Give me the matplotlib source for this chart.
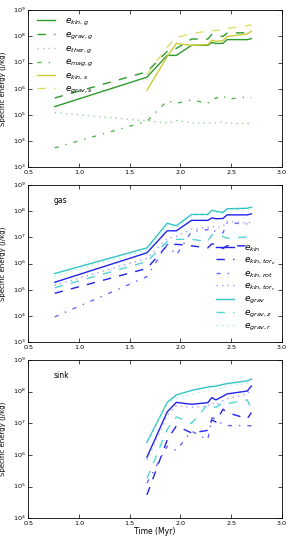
import matplotlib
matplotlib.use("Agg")
import matplotlib.pyplot as plt
from matplotlib.ticker import NullLocator

plt.style.use('classic')
plt.rcParams['font.family'] = ['DejaVu Sans']
plt.rcParams['mathtext.fontset'] = 'dejavusans'

# time grid (Myr)
t = [0.76, 1.67, 1.87, 1.96, 2.11, 2.27, 2.31, 2.35, 2.42, 2.46, 2.66, 2.70]
ts = t[1:]

# ---- panel 1 : gas & sink summary
ekin_g = [2.1e5, 2.8e6, 1.9e7, 1.9e7, 4.6e7, 4.6e7, 5.9e7, 5.4e7, 5.5e7, 7.6e7, 7.6e7, 8.3e7]
egrav_g = [4.5e5, 4.5e6, 2.7e7, 3.5e7, 8.0e7, 8.0e7, 1.2e8, 1.1e8, 1.0e8, 1.35e8, 1.4e8, 1.45e8]
ether_g = [1.25e5, 6.0e4, 5.0e4, 6.2e4, 5.0e4, 4.8e4, 5.2e4, 5.0e4, 5.6e4, 4.8e4, 4.8e4, 4.8e4]
emag_g = [5.6e3, 5.8e4, 3.5e5, 2.8e5, 3.8e5, 2.8e5, 4.2e5, 4.4e5, 5.6e5, 4.0e5, 5.0e5, 4.6e5]
ekin_s = [8.9e5, 1.7e7, 5.4e7, 4.6e7, 4.9e7, 7.2e7, 6.5e7, 7.0e7, 1.0e8, 1.25e8, 1.6e8]
egrav_s = [3.5e6, 4.0e7, 9.0e7, 1.3e8, 1.6e8, 1.65e8, 1.7e8, 1.8e8, 2.0e8, 2.6e8, 2.8e8]

# ---- panel 2 : gas
ekin_gas = [1.95e5, 2.6e6, 1.8e7, 1.8e7, 4.5e7, 4.5e7, 5.6e7, 5.2e7, 5.3e7, 7.3e7, 7.3e7, 8.0e7]
ekin_torz_gas = [7.4e4, 6.6e5, 5.0e6, 5.5e6, 4.8e6, 4.0e6, 5.7e6, 5.5e6, 3.8e6, 4.8e6, 4.8e6, 5.2e6]
ekin_rot_gas = [9.3e3, 3.2e5, 5.5e6, 2.1e6, 1.7e7, 2.0e7, 2.3e7, 1.6e7, 1.5e7, 3.6e7, 3.3e7, 3.6e7]
ekin_torr_gas = [1.5e5, 1.6e6, 9.0e6, 1.1e7, 2.1e7, 2.4e7, 2.7e7, 2.5e7, 2.6e7, 4.2e7, 3.6e7, 3.8e7]
egrav_gas = [4.2e5, 4.0e6, 3.5e7, 2.8e7, 7.6e7, 7.6e7, 1.1e8, 1.0e8, 9.0e7, 1.25e8, 1.3e8, 1.45e8]
egrav_z_gas = [1.2e5, 1.2e6, 7.0e6, 8.5e6, 8.5e6, 7.0e6, 1.25e7, 1.2e7, 1.1e7, 9.3e6, 1.05e7, 1.15e7]
egrav_r_gas = [3.3e5, 3.3e6, 3.0e7, 2.4e7, 6.8e7, 6.8e7, 9.8e7, 9.0e7, 8.0e7, 1.1e8, 1.15e8, 1.3e8]

# ---- panel 3 : sink
ekin_sink = [8.5e5, 2.3e7, 4.6e7, 4.0e7, 4.5e7, 6.5e7, 5.5e7, 7.2e7, 8.5e7, 1.05e8, 1.5e8]
ekin_torz_sink = [5.5e4, 3.0e6, 8.3e6, 5.0e6, 6.0e6, 1.3e7, 1.1e7, 2.8e7, 2.2e7, 1.4e7, 2.2e7]
ekin_rot_sink = [1.3e5, 1.9e6, 1.4e6, 5.7e6, 3.0e6, 1.5e7, 1.4e7, 9.0e6, 8.5e6, 8.5e6, 8.3e6]
ekin_torr_sink = [7.0e5, 1.8e7, 3.6e7, 3.2e7, 3.5e7, 4.5e7, 3.8e7, 5.2e7, 6.0e7, 8.5e7, 1.2e8]
egrav_sink = [2.5e6, 4.6e7, 7.9e7, 1.1e8, 1.4e8, 1.45e8, 1.5e8, 1.7e8, 1.8e8, 2.2e8, 2.5e8]
egrav_z_sink = [1.8e5, 6.5e6, 1.6e7, 1.0e7, 4.0e7, 3.5e7, 3.2e7, 4.5e7, 4.2e7, 5.5e7, 2.8e7]
egrav_r_sink = [2.3e6, 4.2e7, 6.5e7, 8.5e7, 1.05e8, 1.1e8, 1.15e8, 1.35e8, 1.5e8, 1.8e8, 2.1e8]

labels1 = [r'$e_{kin,g}$', r'$e_{grav,g}$', r'$e_{ther,g}$', r'$e_{mag,g}$',
           r'$e_{kin,s}$', r'$e_{grav,s}$']
labels2 = [r'$e_{kin}$', r'$e_{kin,tor_z}$', r'$e_{kin,rot}$', r'$e_{kin,tor_r}$',
           r'$e_{grav}$', r'$e_{grav,z}$', r'$e_{grav,r}$']

G1, G2, G3 = '#2e9a2e', '#55b455', '#99d199'
Y1, Y2 = '#cccc30', '#dede66'
B1, B2, B3 = '#2222ee', '#6666ff', '#a0a0ff'
C1, C2, C3 = '#33c4c4', '#55d4d4', '#a8ecec'

fig = plt.figure(figsize=(2.89, 5.42), dpi=100, facecolor='white')
ax1 = fig.add_axes([0.098, 0.691, 0.877, 0.290])
ax2 = fig.add_axes([0.098, 0.3685, 0.877, 0.290])
ax3 = fig.add_axes([0.098, 0.0437, 0.877, 0.292])

lw = 1.0
ax1.plot(t, ekin_g, '-', color=G1, lw=lw, label=labels1[0])
ax1.plot(t, egrav_g, '--', color=G1, lw=lw, label=labels1[1])
ax1.plot(t, ether_g, ':', color=G3, lw=lw, label=labels1[2])
ax1.plot(t, emag_g, '-.', color=G2, lw=lw, label=labels1[3])
ax1.plot(ts, ekin_s, '-', color=Y1, lw=lw, label=labels1[4])
ax1.plot(ts, egrav_s, '--', color=Y2, lw=lw, label=labels1[5])

def gas_like(ax, x, ek, ekz, ekr, ekt, eg, egz, egr, lab):
    ax.plot(x, ek, '-', color=B1, lw=lw, label=lab[0] if lab else None)
    ax.plot(x, ekz, '--', color=B1, lw=lw, label=lab[1] if lab else None)
    ax.plot(x, ekr, '-.', color=B2, lw=lw, label=lab[2] if lab else None)
    ax.plot(x, ekt, ':', color=B3, lw=lw, label=lab[3] if lab else None)
    ax.plot(x, eg, '-', color=C1, lw=lw, label=lab[4] if lab else None)
    ax.plot(x, egz, '--', color=C2, lw=lw, label=lab[5] if lab else None)
    ax.plot(x, egr, ':', color=C3, lw=lw, label=lab[6] if lab else None)

gas_like(ax2, t, ekin_gas, ekin_torz_gas, ekin_rot_gas, ekin_torr_gas,
         egrav_gas, egrav_z_gas, egrav_r_gas, labels2)
gas_like(ax3, ts, ekin_sink, ekin_torz_sink, ekin_rot_sink, ekin_torr_sink,
         egrav_sink, egrav_z_sink, egrav_r_sink, None)

for ax, ylo in ((ax1, 1e3), (ax2, 1e3), (ax3, 1e4)):
    ax.set_yscale('log')
    ax.set_xlim(0.5, 3.0)
    ax.set_ylim(ylo, 1e9)
    ax.set_xticks([0.5, 1.0, 1.5, 2.0, 2.5, 3.0])
    ax.yaxis.set_minor_locator(NullLocator())
    ax.tick_params(labelsize=4.6, length=3, width=0.5, pad=2)
    ax.set_ylabel('Specific energy (J/kg)', fontsize=5.0, labelpad=0)
    ax.yaxis.set_label_coords(-0.087, 0.5)
    for s in ax.spines.values():
        s.set_linewidth(0.6)

ax3.set_xlabel('Time (Myr)', fontsize=5.5, labelpad=1)
ax2.text(0.1, 0.9, 'gas', transform=ax2.transAxes, fontsize=5.5, va='center')
ax3.text(0.1, 0.9, 'sink', transform=ax3.transAxes, fontsize=5.5, va='center')

ax1.legend(loc='upper left', bbox_to_anchor=(0.0, 1.0), frameon=False, fontsize=6.5,
           handlelength=2.6, labelspacing=0.25, handletextpad=0.8, borderaxespad=0.3)
ax2.legend(loc='lower right', bbox_to_anchor=(1.0, 0.02), frameon=False, fontsize=6.5,
           handlelength=2.6, labelspacing=0.2, handletextpad=0.8, borderaxespad=0.3)

fig.savefig('out.png', dpi=100, facecolor='white')
